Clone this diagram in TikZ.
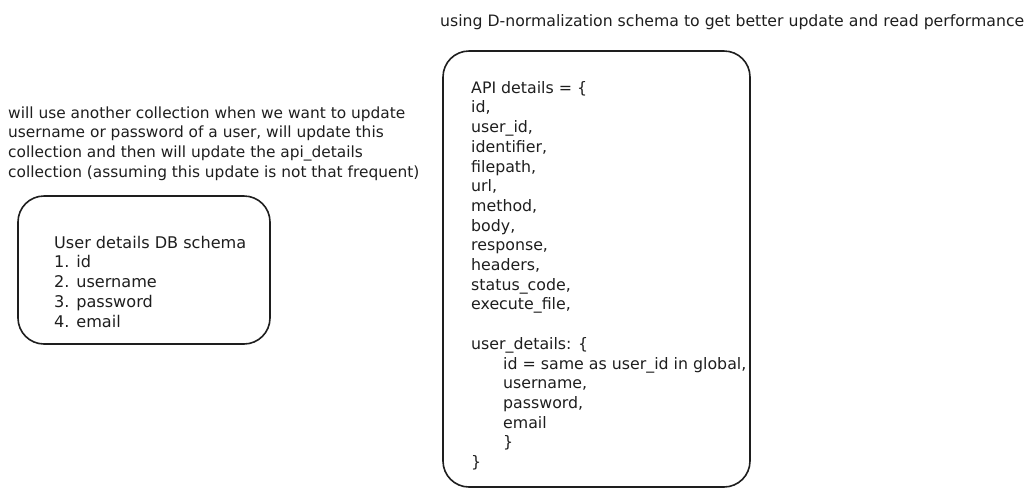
\documentclass[tikz,border=0pt]{standalone}
\usepackage{fontspec}
\setmainfont{DejaVu Sans}
\definecolor{ink}{HTML}{1E1E1E}
\tikzset{
  sketchbox/.style={draw=ink, line width=1.6pt, rounded corners=26pt},
  note/.style={anchor=north west, inner sep=0pt, align=left, text=ink,
    font=\fontsize{15.4}{19.7}\selectfont},
  boxtext/.style={note, font=\fontsize{15.8}{19.7}\selectfont},
}
\begin{document}
\begin{tikzpicture}[x=1pt, y=-1pt]
\useasboundingbox (0,0) rectangle (1034,499);
% baseline minus strut height (0.7*19.7 = 13.79)
\node[note, font=\fontsize{15.7}{19.7}\selectfont] (title) at (440, 26-13.79)
  {\strut using D-normalization schema to get better update and read performance};
\node[note] (para) at (8, 118-13.79)
  {\strut will use another collection when we want to update\\
   username or password of a user, will update this\\
   collection and then will update the api\_details\\
   collection (assuming this update is not that frequent)};
\draw[sketchbox] (18,196) rectangle (270,344);
\node[boxtext, font=\fontsize{16.1}{19.7}\selectfont] (user) at (54, 248-13.79)
  {\strut User details DB schema\\
   1. id\\
   2. username\\
   3. password\\
   4. email};
\draw[sketchbox] (443,51) rectangle (750,487);
\node[boxtext] (api) at (471, 93-13.79)
  {\strut API details = \{\\
   id,\\
   user\_id,\\
   identifier,\\
   filepath,\\
   url,\\
   method,\\
   body,\\
   response,\\
   headers,\\
   status\_code,\\
   execute\_file,\\
   \strut\\
   user\_details: \{\\
   \hspace*{32pt}id = same as user\_id in global,\\
   \hspace*{32pt}username,\\
   \hspace*{32pt}password,\\
   \hspace*{32pt}email\\
   \hspace*{32pt}\}\\
   \}};
\end{tikzpicture}
\end{document}
